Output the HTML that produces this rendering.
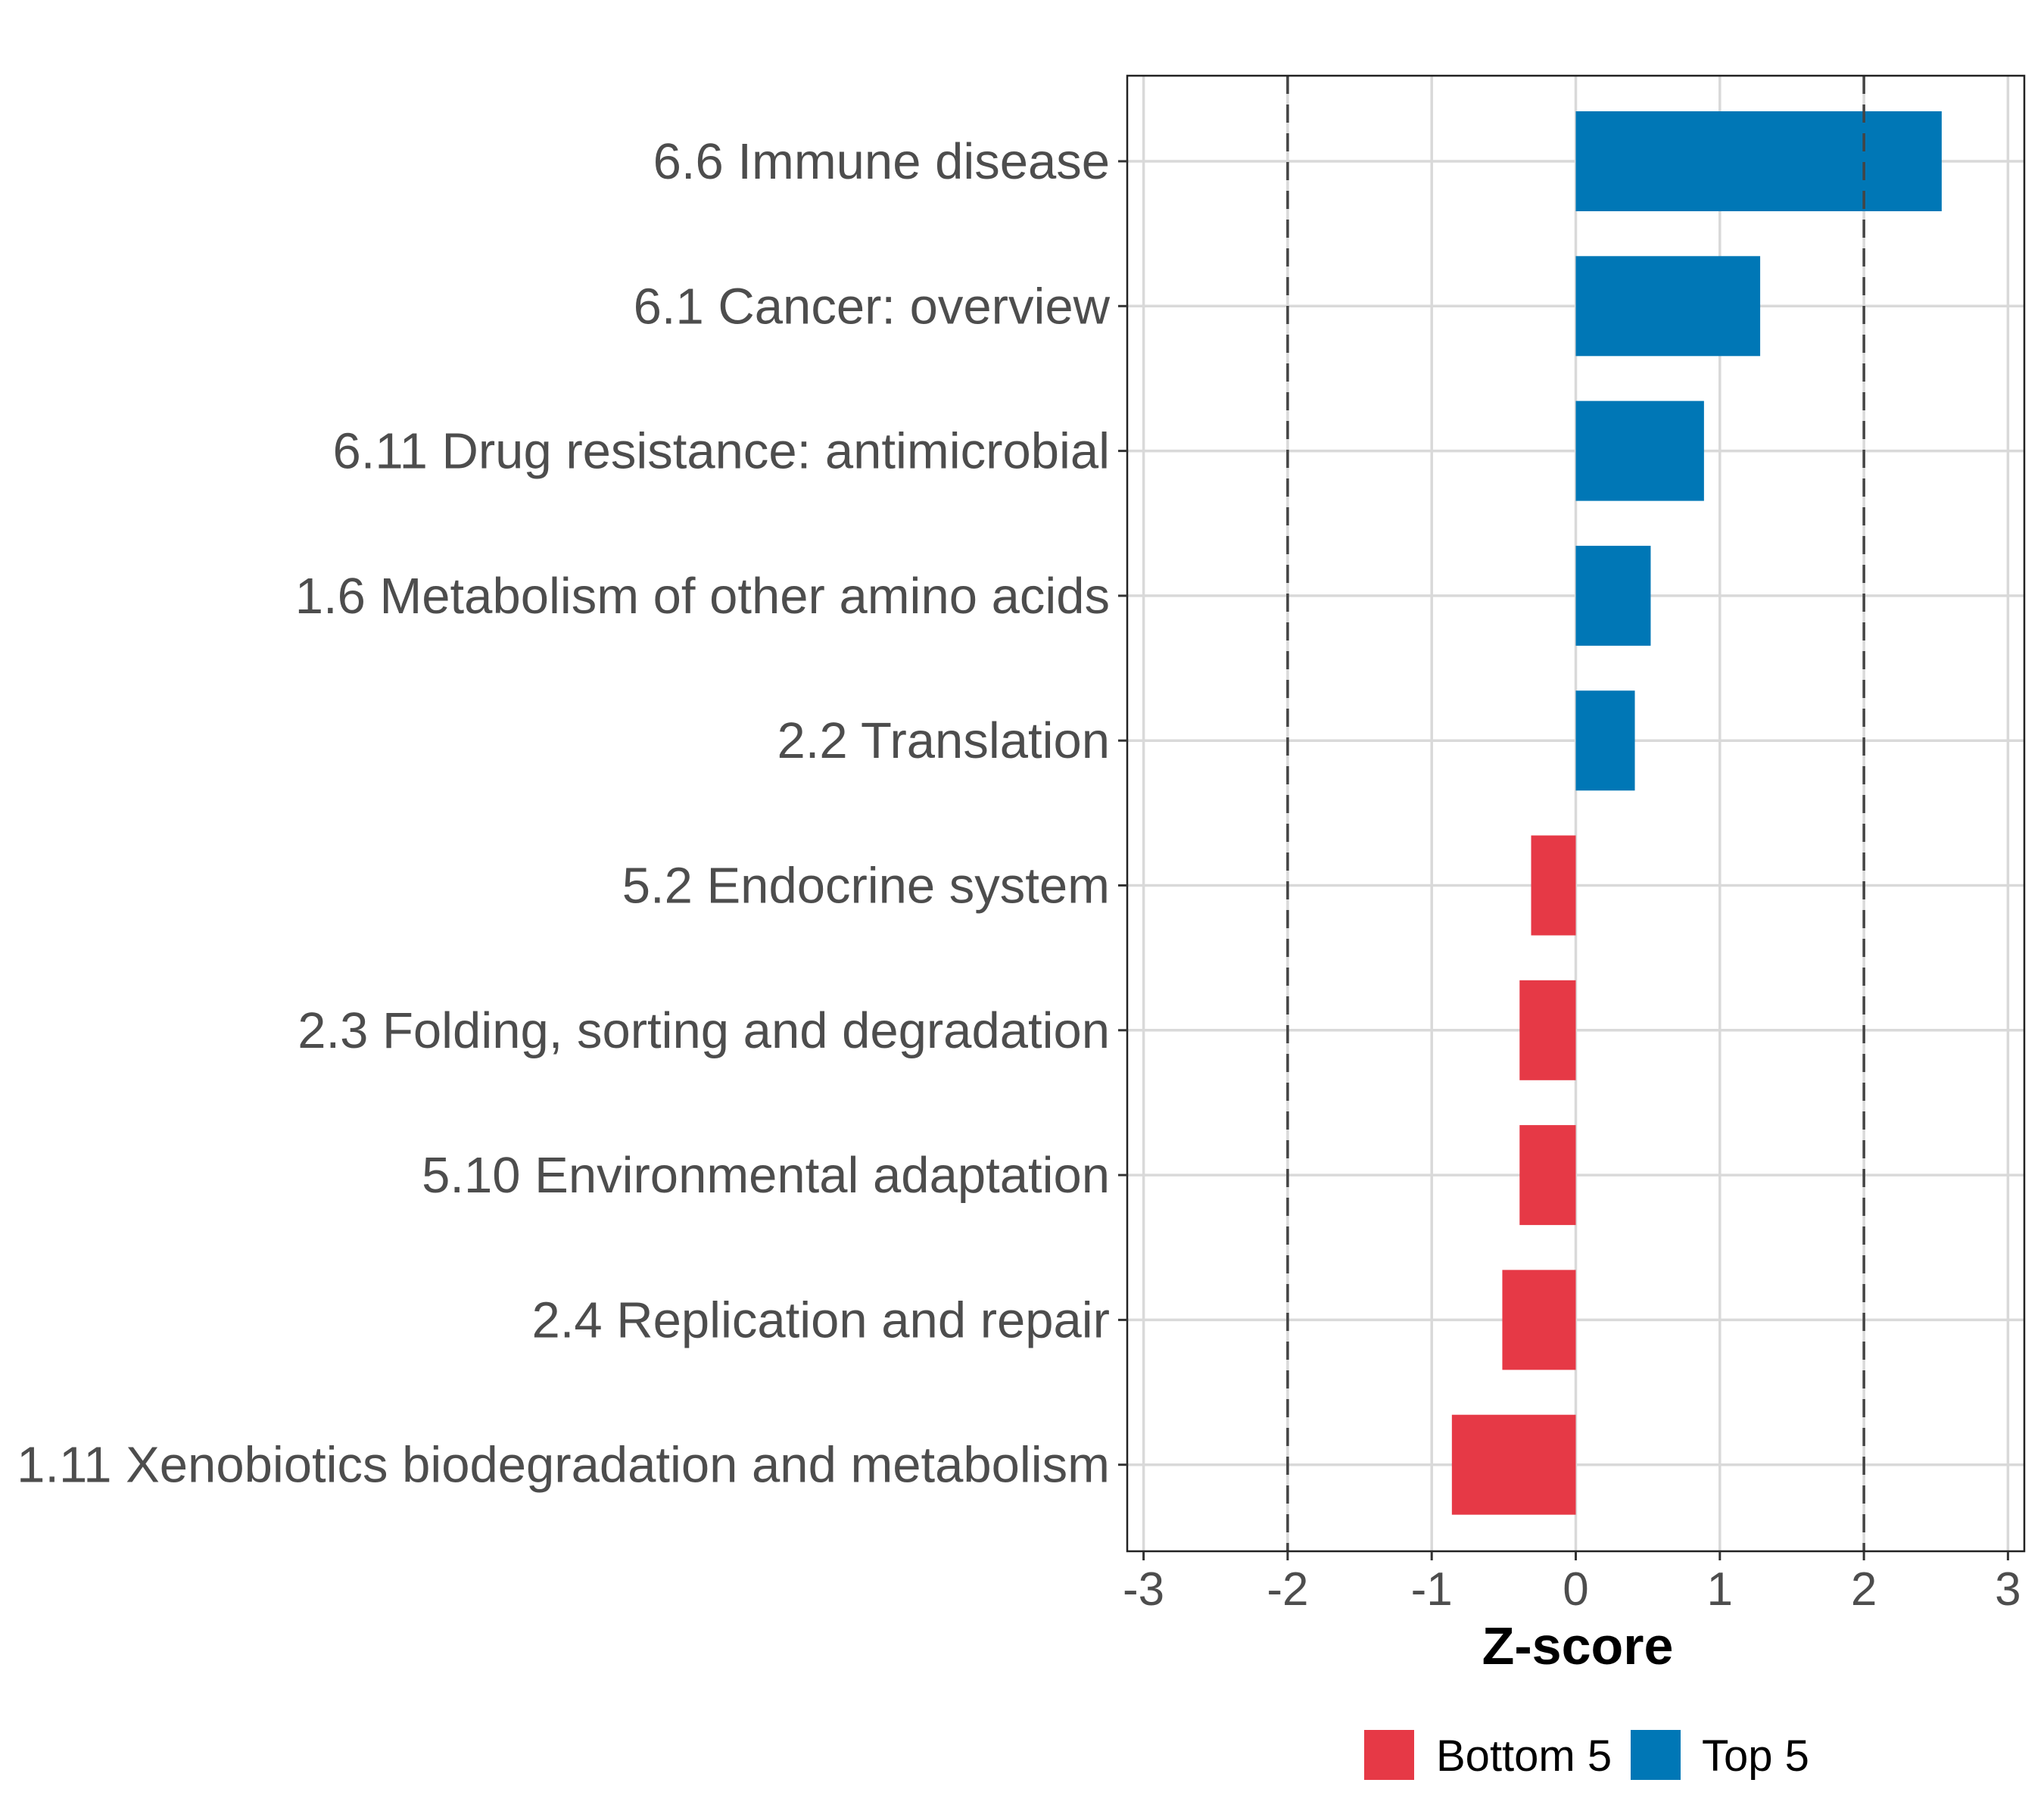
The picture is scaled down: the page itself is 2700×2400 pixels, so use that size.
<!DOCTYPE html>
<html><head><meta charset="utf-8"><style>
body{margin:0;background:#fff}
svg{display:block;font-family:"Liberation Sans",sans-serif}
</style></head><body>
<svg id="chart" width="2700" height="2400" viewBox="0 0 2700 2400">
<g id="grid"></g>
<g id="bars"></g>
<g id="ref"></g>
<rect x="1489" y="100" width="1185" height="1949" fill="none" stroke="#222" stroke-width="2.5"/>
<g id="yaxis"></g>
<g id="xaxis"></g>
<text x="2084" y="2198" text-anchor="middle" font-size="70" font-weight="bold" fill="#000">Z-score</text>
<g>
<rect x="1802" y="2285" width="66" height="66" fill="#E63946"/>
<text x="1897" y="2339" font-size="58" fill="#000">Bottom 5</text>
<rect x="2154" y="2285" width="66" height="66" fill="#0077B6"/>
<text x="2248" y="2339" font-size="58" fill="#000">Top 5</text>
</g>
</svg>
<script>
const categories=["6.6 Immune disease","6.1 Cancer: overview","6.11 Drug resistance: antimicrobial","1.6 Metabolism of other amino acids","2.2 Translation","5.2 Endocrine system","2.3 Folding, sorting and degradation","5.10 Environmental adaptation","2.4 Replication and repair","1.11 Xenobiotics biodegradation and metabolism"];
const zscores=[2.54,1.28,0.89,0.52,0.41,-0.31,-0.39,-0.39,-0.51,-0.86];
const groups=["Top 5","Top 5","Top 5","Top 5","Top 5","Bottom 5","Bottom 5","Bottom 5","Bottom 5","Bottom 5"];
const xTicks=[-3,-2,-1,0,1,2,3];
const xTickLabels=["-3","-2","-1","0","1","2","3"];
const refLines=[-2,2];
const NS="http://www.w3.org/2000/svg";
const x=v=>2081.5+v*190.3;
const y=i=>213+i*191.3;
function mk(tag,attrs,parent){const e=document.createElementNS(NS,tag);for(const k in attrs)e.setAttribute(k,attrs[k]);parent.appendChild(e);return e;}
const grid=document.getElementById('grid'),bars=document.getElementById('bars'),ref=document.getElementById('ref'),ya=document.getElementById('yaxis'),xa=document.getElementById('xaxis');
xTicks.forEach((t,i)=>{
 const g=mk('line',{x1:x(t),x2:x(t),y1:100,y2:2049,stroke:'#d9d9d9','stroke-width':3.5},grid);
 
 
 const tk=mk('line',{x1:x(t),x2:x(t),y1:2049,y2:2061,stroke:'#333','stroke-width':3},xa);
 
 
 const tl=mk('text',{x:x(t),y:2120,'text-anchor':'middle','font-size':62,fill:'#4d4d4d'},xa);
 tl.textContent=xTickLabels[i];
 
 
});
categories.forEach((c,i)=>{
 const g=mk('line',{x1:1489,x2:2674,y1:y(i),y2:y(i),stroke:'#d9d9d9','stroke-width':3.5},grid);
 
 
 const v=zscores[i];
 const b=mk('rect',{x:Math.min(x(0),x(v)),y:y(i)-66,width:Math.abs(x(v)-x(0)),height:132,fill:groups[i]==="Top 5"?'#0077B6':'#E63946'},bars);
 
 
 const tk=mk('line',{x1:1477,x2:1489,y1:y(i),y2:y(i),stroke:'#333','stroke-width':3},ya);
 
 
 const tl=mk('text',{x:1466,y:y(i)+23,'text-anchor':'end','font-size':67,fill:'#4d4d4d'},ya);
 tl.textContent=c;
 
 
});
refLines.forEach(r=>{
 const l=mk('line',{x1:x(r),x2:x(r),y1:100,y2:2049,stroke:'#444','stroke-width':3.5,'stroke-dasharray':'24,14'},ref);
 
 
});
</script>
</body></html>
